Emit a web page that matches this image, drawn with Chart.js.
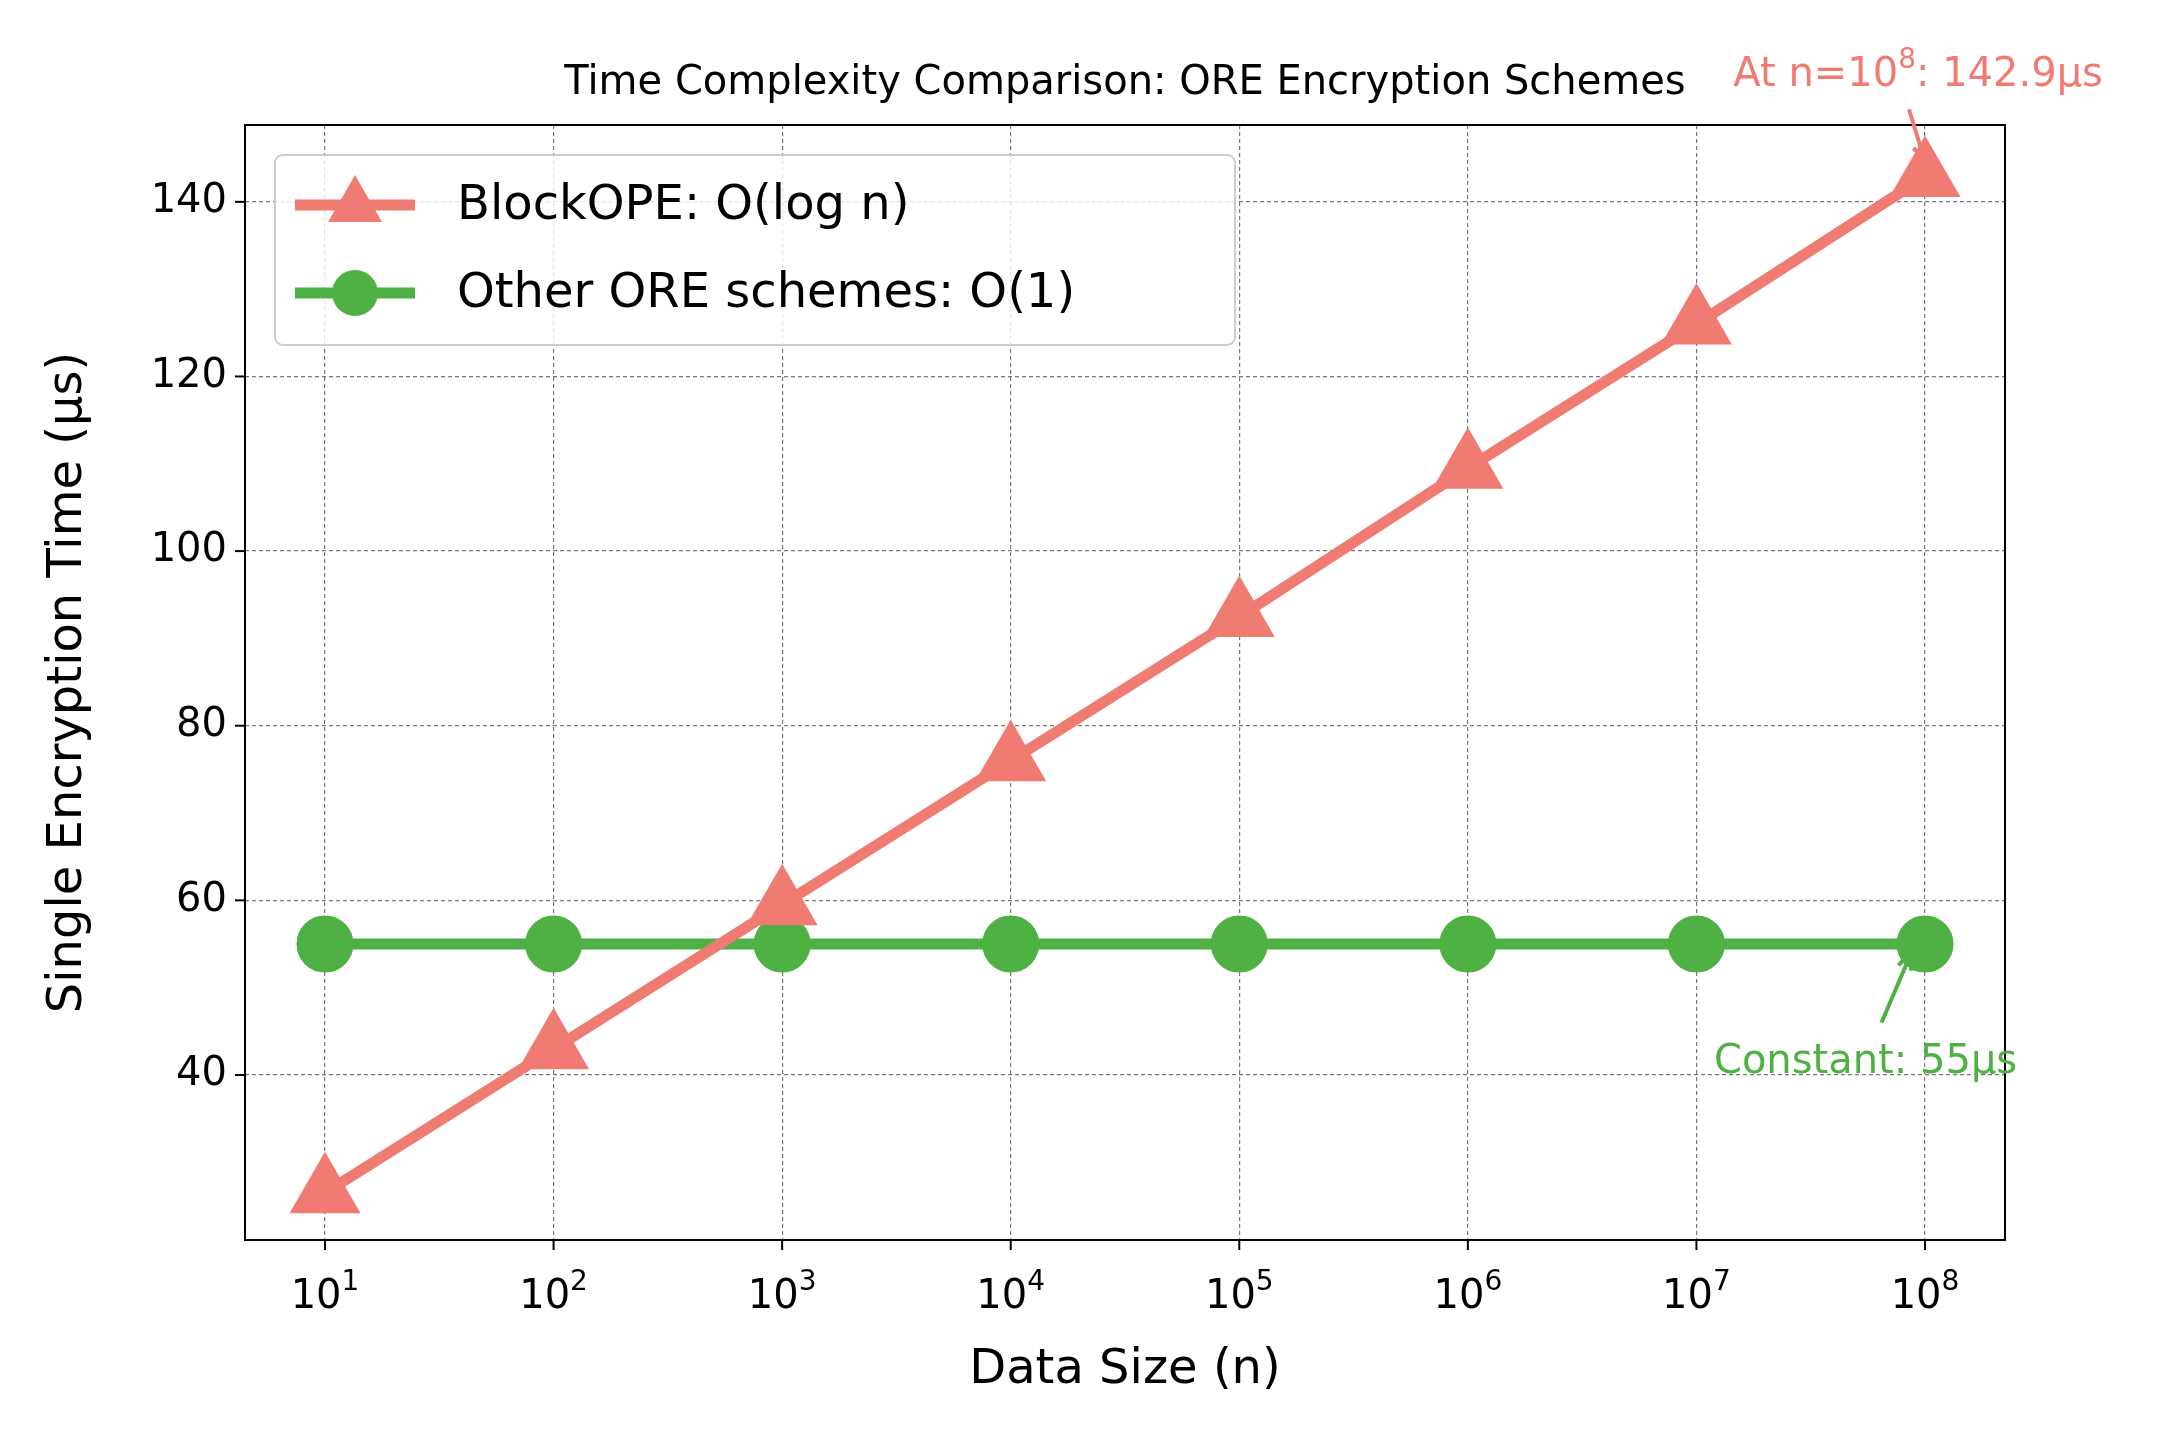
<!DOCTYPE html>
<html><head><meta charset="utf-8">
<script src="https://cdn.jsdelivr.net/npm/chart.js@4"></script>
<style>body{margin:0;background:#fff}</style></head>
<body><canvas id="c" width="2160" height="1440"></canvas>
<script>
const exponents = [1,2,3,4,5,6,7,8];
const tickExps = ['1','2','3','4','5','6','7','8'];
const blockOPE = [26.5,43.0,59.5,76.0,92.5,109.5,126.0,142.9];
const otherORE = [55,55,55,55,55,55,55,55];
const yTicks = [40,60,80,100,120,140];
const RED='#f07b72', GREEN='#4fb043';
const F='"DejaVu Sans", sans-serif';

function arrow(ctx,x1,y1,x2,y2,col){
  ctx.save();ctx.strokeStyle=col;ctx.lineWidth=4;
  ctx.beginPath();ctx.moveTo(x1,y1);ctx.lineTo(x2,y2);ctx.stroke();
  const a=Math.atan2(y2-y1,x2-x1),L=18;
  ctx.beginPath();ctx.moveTo(x2,y2);
  ctx.lineTo(x2-L*Math.cos(a-0.4),y2-L*Math.sin(a-0.4));
  ctx.moveTo(x2,y2);
  ctx.lineTo(x2-L*Math.cos(a+0.4),y2-L*Math.sin(a+0.4));
  ctx.stroke();ctx.restore();
}
function supText(ctx,base,exp,cx,cy,size){
  ctx.font=size+'px '+F;const w1=ctx.measureText(base).width;
  ctx.font=(size*0.7)+'px '+F;const w2=ctx.measureText(exp).width;
  let x0=cx-(w1+w2)/2;
  ctx.textAlign='left';ctx.font=size+'px '+F;ctx.fillText(base,x0,cy);
  ctx.font=(size*0.7)+'px '+F;ctx.fillText(exp,x0+w1,cy-size*0.38);
}
const deco={id:'deco',
 afterDatasetsDraw(ch){
  const {ctx,chartArea:a,scales:{x,y}}=ch;
  ctx.save();
  ctx.strokeStyle='#000';ctx.lineWidth=2;ctx.strokeRect(a.left,a.top,a.right-a.left,a.bottom-a.top);
  ctx.fillStyle='#000';ctx.textBaseline='middle';
  exponents.forEach((e,i)=>{const px=x.getPixelForValue(e);ctx.beginPath();ctx.moveTo(px,a.bottom);ctx.lineTo(px,a.bottom+10);ctx.stroke();
    supText(ctx,'10',tickExps[i],px,a.bottom+58,40);});
  ctx.textAlign='right';ctx.font='40px '+F;
  yTicks.forEach(v=>{const py=y.getPixelForValue(v);ctx.beginPath();ctx.moveTo(a.left,py);ctx.lineTo(a.left-10,py);ctx.stroke();
    ctx.fillText(String(v),a.left-18,py);});
  // axis titles
  ctx.textAlign='center';ctx.font='48px '+F;
  ctx.fillText('Data Size (n)',(a.left+a.right)/2,1371);
  ctx.save();ctx.translate(69,(a.top+a.bottom)/2);ctx.rotate(-Math.PI/2);ctx.fillText('Single Encryption Time (μs)',0,0);ctx.restore();
  // title
  ctx.font='40px '+F;
  ctx.fillText('Time Complexity Comparison: ORE Encryption Schemes',(a.left+a.right)/2,84);
  // annotations
  ctx.fillStyle=RED;
  supText(ctx,'At n=10','8',x.getPixelForValue(7.72),y.getPixelForValue(154.4),40);
  ctx.textAlign='left';ctx.font='40px '+F;
  const wA=ctx.measureText('At n=10').width;
  ctx.font='40px '+F;
  // place rest after superscript
  {
    ctx.font='40px '+F;const w1=ctx.measureText('At n=10').width;ctx.font='28px '+F;const w2=ctx.measureText('8').width;
  }
  ctx.restore();ctx.save();ctx.textBaseline='middle';
  // full red label drawn as one group
  {
    const cx=x.getPixelForValue(7.97),cy=y.getPixelForValue(154.4);
    ctx.font='40px '+F;const a1=ctx.measureText('At n=10').width;const a3=ctx.measureText(': 142.9μs').width;
    ctx.font='28px '+F;const a2=ctx.measureText('8').width;
    let x0=cx-(a1+a2+a3)/2;
    ctx.fillStyle='#fff';ctx.fillRect(x0-4,cy-30,a1+a2+a3+8,60);
    ctx.fillStyle=RED;ctx.textAlign='left';
    ctx.font='40px '+F;ctx.fillText('At n=10',x0,cy);
    ctx.font='28px '+F;ctx.fillText('8',x0+a1,cy-15);
    ctx.font='40px '+F;ctx.fillText(': 142.9μs',x0+a1+a2,cy);
  }
  arrow(ctx,x.getPixelForValue(7.93),y.getPixelForValue(150.6),x.getPixelForValue(8),y.getPixelForValue(144.6),RED);
  ctx.fillStyle=GREEN;ctx.textAlign='center';ctx.font='40px '+F;
  ctx.fillText('Constant: 55μs',x.getPixelForValue(7.74),y.getPixelForValue(41.4));
  arrow(ctx,x.getPixelForValue(7.81),y.getPixelForValue(46),x.getPixelForValue(7.94),y.getPixelForValue(54),GREEN);
  // legend
  const lx=a.left+30,ly=a.top+30,lw=960,lh=190;
  ctx.fillStyle='rgba(255,255,255,0.8)';ctx.strokeStyle='#ccc';ctx.lineWidth=2;
  ctx.beginPath();ctx.roundRect(lx,ly,lw,lh,8);ctx.fill();ctx.stroke();
  ch.data.datasets.forEach((d,i)=>{
    const cy=ly+50+i*88;
    ctx.strokeStyle=d.borderColor;ctx.lineWidth=11;
    ctx.beginPath();ctx.moveTo(lx+20,cy);ctx.lineTo(lx+140,cy);ctx.stroke();
    ctx.fillStyle=d.borderColor;ctx.beginPath();
    if(i===0){ctx.moveTo(lx+80,cy-30);ctx.lineTo(lx+107,cy+17);ctx.lineTo(lx+53,cy+17);ctx.closePath();}
    else ctx.arc(lx+80,cy,23,0,Math.PI*2);
    ctx.fill();
    ctx.fillStyle='#000';ctx.font='48px '+F;ctx.textAlign='left';
    ctx.fillText(d.label,lx+182,cy+2);
  });
  ctx.restore();
 }};
new Chart(document.getElementById('c'),{
 type:'line',
 data:{datasets:[
  {label:'BlockOPE: O(log n)',data:exponents.map((e,i)=>({x:e,y:blockOPE[i]})),borderColor:RED,backgroundColor:RED,borderWidth:11,pointStyle:'triangle',pointRadius:30,pointHoverRadius:30},
  {label:'Other ORE schemes: O(1)',data:exponents.map((e,i)=>({x:e,y:otherORE[i]})),borderColor:GREEN,backgroundColor:GREEN,borderWidth:11,pointStyle:'circle',pointRadius:23,pointHoverRadius:23}
 ]},
 plugins:[deco],
 options:{responsive:false,animation:false,devicePixelRatio:1,
  layout:{padding:{top:125,right:155,left:0,bottom:0}},
  plugins:{legend:{display:false},tooltip:{enabled:false}},
  scales:{
   x:{type:'linear',min:0.65,max:8.35,
    afterBuildTicks:s=>{s.ticks=exponents.map(v=>({value:v}));},
    afterFit:s=>{s.height=200;},
    ticks:{display:false},
    grid:{color:'#777',lineWidth:1.2,tickLength:0},border:{dash:[4,3],display:false}},
   y:{min:21.1,max:148.8,
    afterBuildTicks:s=>{s.ticks=yTicks.map(v=>({value:v}));},
    afterFit:s=>{s.width=245;},
    ticks:{display:false},
    grid:{color:'#777',lineWidth:1.2,tickLength:0},border:{dash:[4,3],display:false}}
  }}
});
</script></body></html>
